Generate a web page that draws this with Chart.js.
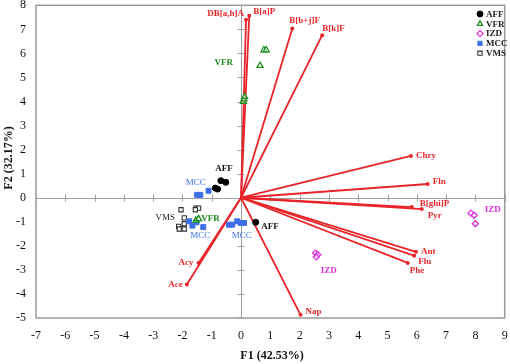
<!DOCTYPE html>
<html>
<head>
<meta charset="utf-8">
<script src="https://cdn.jsdelivr.net/npm/chart.js@4.4.0/dist/chart.umd.min.js"></script>
<style>
  html, body { margin: 0; padding: 0; background: #fff; }
</style>
</head>
<body>
<canvas id="pcaChart" width="510" height="364"></canvas>
<script>
// PAH loading vectors (F1, F2)
const pahNames = ['DB[a,h]A', 'B[a]P', 'B[b+j]F', 'B[k]F', 'Chry', 'Fln', 'B[ghi]P', 'Pyr', 'Ant', 'Flu', 'Phe', 'Nap', 'Acy', 'Ace'];
const pahF1 = [0.17, 0.28, 1.75, 2.77, 5.80, 6.37, 5.83, 6.17, 5.97, 5.91, 5.69, 2.03, -1.45, -1.85];
const pahF2 = [7.40, 7.57, 7.04, 6.76, 1.74, 0.57, -0.39, -0.47, -2.25, -2.41, -2.71, -4.87, -2.71, -3.61];

// sample scores per site
const affF1 = [-0.69, -0.52, -0.88, -0.80, 0.50];
const affF2 = [0.71, 0.64, 0.40, 0.36, -1.02];
const vfrF1 = [0.08, 0.10, 0.12, 0.78, 0.86, 0.65, -1.54, -1.45];
const vfrF2 = [4.00, 4.10, 4.20, 6.14, 6.14, 5.49, -0.94, -0.88];
const izdF1 = [7.85, 7.96, 8.00, 2.54, 2.62, 2.57];
const izdF2 = [-0.64, -0.73, -1.08, -2.30, -2.37, -2.46];
const mccF1 = [-1.50, -1.39, -1.11, -1.77, -1.66, -1.29, -1.52, -0.41, -0.30, -0.13, -0.01, 0.10];
const mccF2 = [0.12, 0.12, 0.29, -0.98, -1.16, -1.22, -1.02, -1.12, -1.12, -0.98, -1.05, -1.05];
const vmsF1 = [-2.05, -1.94, -2.13, -2.11, -1.94, -1.94, -1.54, -1.45, -1.56];
const vmsF2 = [-0.50, -0.84, -1.19, -1.30, -1.30, -1.08, -0.43, -0.43, -0.50];

const xTicks = [-7, -6, -5, -4, -3, -2, -1, 0, 1, 2, 3, 4, 5, 6, 7, 8, 9];
const yTicks = [-5, -4, -3, -2, -1, 0, 1, 2, 3, 4, 5, 6, 7, 8];

const serif = '"Liberation Serif", "Times New Roman", serif';
const red = '#e8242a';

// where each vector label sits relative to its tip (px)
const pahLabelPos = [
  [-2, -6, 'right'], [4, -4, 'left'], [-3, -8, 'left'], [0, -6, 'left'],
  [5, 0, 'left'], [5, -2, 'left'], [8, -3, 'left'], [6, 7, 'left'],
  [5, 0, 'left'], [4, 6, 'left'], [2, 8, 'left'], [5, -3, 'left'],
  [-5, 0, 'right'], [-4, 0, 'right']
];

// group name annotations in data units
const groupNotes = [
  { text: 'AFF', x: -0.58, y: 1.2, color: '#111', bold: true },
  { text: 'AFF', x: 0.99, y: -1.19, color: '#111', bold: true },
  { text: 'VFR', x: -0.59, y: 5.6, color: '#1f8f1f', bold: true },
  { text: 'VFR', x: -1.04, y: -0.88, color: '#1f8f1f', bold: true },
  { text: 'IZD', x: 8.59, y: -0.5, color: '#e030e0', bold: true },
  { text: 'IZD', x: 2.99, y: -3.02, color: '#e030e0', bold: true },
  { text: 'MCC', x: -1.55, y: 0.61, color: '#3d6fe6', bold: false },
  { text: 'MCC', x: -1.39, y: -1.58, color: '#3d6fe6', bold: false },
  { text: 'MCC', x: 0.02, y: -1.58, color: '#3d6fe6', bold: false },
  { text: 'VMS', x: -2.59, y: -0.84, color: '#222', bold: false }
];

function pts(xs, ys) {
  return xs.map((x, i) => ({ x: x, y: ys[i] }));
}

const vectorSets = pahNames.map((name, i) => ({
  label: name,
  data: [{ x: 0, y: 0 }, { x: pahF1[i], y: pahF2[i] }],
  showLine: true,
  borderColor: red,
  backgroundColor: red,
  borderWidth: 1.8,
  pointRadius: [0, 2],
  pointBorderWidth: 0,
  order: 3
}));

const groupSets = [
  { label: 'AFF', data: pts(affF1, affF2), pointStyle: 'circle', pointRadius: 3, backgroundColor: '#000', borderColor: '#000', borderWidth: 1 },
  { label: 'VFR', data: pts(vfrF1, vfrF2), pointStyle: 'triangle', pointRadius: 3.5, backgroundColor: 'rgba(255,255,255,0.6)', borderColor: '#1f8f1f', borderWidth: 1.3 },
  { label: 'IZD', data: pts(izdF1, izdF2), pointStyle: 'rectRot', pointRadius: 3, backgroundColor: 'rgba(255,255,255,0.6)', borderColor: '#e030e0', borderWidth: 1.3 },
  { label: 'MCC', data: pts(mccF1, mccF2), pointStyle: 'rect', pointRadius: 3.5, backgroundColor: '#3d6fe6', borderColor: '#3d6fe6', borderWidth: 1 },
  { label: 'VMS', data: pts(vmsF1, vmsF2), pointStyle: 'rect', pointRadius: 3, backgroundColor: '#fff', borderColor: '#333', borderWidth: 1.1 }
].map(d => Object.assign(d, { showLine: false, order: 1 }));

function legendMarker(ctx, d, x, y) {
  ctx.save();
  ctx.fillStyle = d.backgroundColor;
  ctx.strokeStyle = d.borderColor;
  ctx.lineWidth = d.borderWidth;
  Chart.helpers.drawPoint(ctx, { pointStyle: d.pointStyle, radius: 3, rotation: 0, borderWidth: d.borderWidth }, x, y);
  ctx.restore();
}

const decor = {
  id: 'decor',
  beforeDatasetsDraw(chart) {
    const ctx = chart.ctx;
    const a = chart.chartArea;
    const xs = chart.scales.x, ys = chart.scales.y;
    ctx.save();
    // frame
    ctx.strokeStyle = '#9a9a9a';
    ctx.lineWidth = 1.5;
    ctx.strokeRect(a.left, a.top, a.right - a.left, a.bottom - a.top);
    // zero axes with crossing ticks
    const x0 = Math.round(xs.getPixelForValue(0)) + 0.5;
    const y0 = Math.round(ys.getPixelForValue(0)) + 0.5;
    ctx.lineWidth = 1;
    ctx.strokeStyle = '#a0a0a0';
    ctx.beginPath();
    ctx.moveTo(a.left, y0); ctx.lineTo(a.right, y0);
    ctx.moveTo(x0, a.top); ctx.lineTo(x0, a.bottom);
    xTicks.forEach(t => {
      const px = Math.round(xs.getPixelForValue(t)) + 0.5;
      ctx.moveTo(px, y0 + 3); ctx.lineTo(px, y0 - 4);
    });
    yTicks.forEach(t => {
      const py = Math.round(ys.getPixelForValue(t)) + 0.5;
      ctx.moveTo(x0 + 3, py); ctx.lineTo(x0 - 4, py);
    });
    ctx.stroke();
    ctx.restore();
  },
  afterDatasetsDraw(chart) {
    const ctx = chart.ctx;
    const xs = chart.scales.x, ys = chart.scales.y;
    ctx.save();
    ctx.textBaseline = 'middle';
    // vector labels
    ctx.fillStyle = red;
    ctx.font = 'bold 9px ' + serif;
    pahNames.forEach((name, i) => {
      const p = pahLabelPos[i];
      ctx.textAlign = p[2];
      ctx.fillText(name, xs.getPixelForValue(pahF1[i]) + p[0], ys.getPixelForValue(pahF2[i]) + p[1]);
    });
    // group labels
    ctx.textAlign = 'center';
    groupNotes.forEach(g => {
      ctx.fillStyle = g.color;
      ctx.font = (g.bold ? 'bold ' : '') + '9px ' + serif;
      ctx.fillText(g.text, xs.getPixelForValue(g.x), ys.getPixelForValue(g.y));
    });
    // legend
    ctx.font = 'bold 9px ' + serif;
    ctx.textAlign = 'left';
    groupSets.forEach((d, i) => {
      const ly = 14 + i * 9.8;
      legendMarker(ctx, d, 480, ly);
      ctx.fillStyle = '#222';
      ctx.fillText(d.label, 486, ly + 0.5);
    });
    ctx.restore();
  },
  afterDraw(chart) {
    const ctx = chart.ctx;
    ctx.save();
    ctx.fillStyle = '#111';
    ctx.font = 'bold 12px ' + serif;
    ctx.textAlign = 'center';
    ctx.textBaseline = 'middle';
    ctx.fillText('F1 (42.53%)', 272, 356);
    ctx.translate(9, 158);
    ctx.rotate(-Math.PI / 2);
    ctx.fillText('F2 (32.17%)', 0, 0);
    ctx.restore();
  }
};

new Chart(document.getElementById('pcaChart'), {
  type: 'scatter',
  data: { datasets: vectorSets.concat(groupSets) },
  options: {
    responsive: false,
    animation: false,
    devicePixelRatio: 1,
    layout: { padding: { top: 5, right: 3, left: 0, bottom: 0 } },
    plugins: { legend: { display: false }, tooltip: { enabled: false } },
    scales: {
      x: {
        type: 'linear', min: -7, max: 9,
        afterBuildTicks: s => { s.ticks = xTicks.map(v => ({ value: v })); },
        afterFit: s => { s.height = 46; s.paddingLeft = 0; s.paddingRight = 0; },
        grid: { display: false, drawTicks: false },
        border: { display: false },
        ticks: { padding: 11, color: '#111', font: { family: serif, size: 12 }, maxRotation: 0, autoSkip: false }
      },
      y: {
        type: 'linear', min: -5, max: 8,
        afterBuildTicks: s => { s.ticks = yTicks.map(v => ({ value: v })); },
        afterFit: s => { s.width = 36; s.paddingTop = 0; s.paddingBottom = 0; },
        grid: { display: false, drawTicks: false },
        border: { display: false },
        ticks: { padding: 10, color: '#111', font: { family: serif, size: 12 }, autoSkip: false }
      }
    }
  },
  plugins: [decor]
});
</script>
</body>
</html>
